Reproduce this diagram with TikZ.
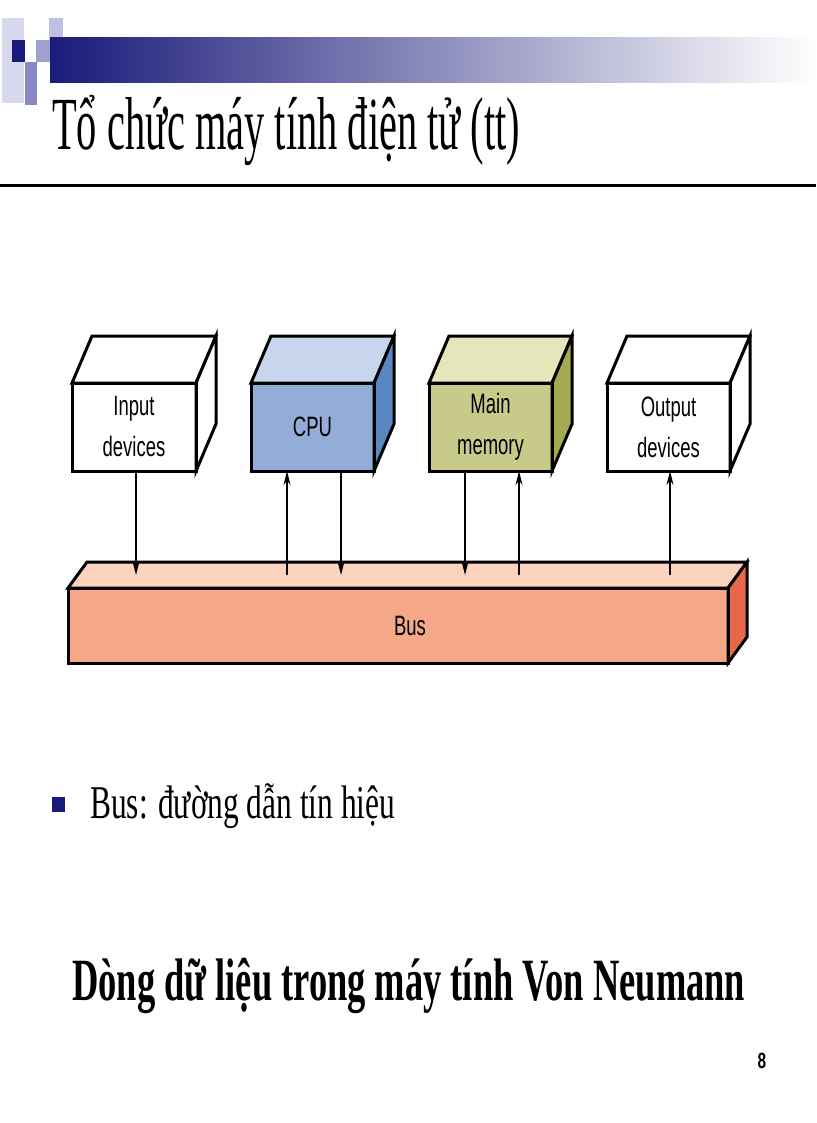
\documentclass[tikz,border=0pt]{standalone}
\usepackage{fontspec}
\setmainfont{Liberation Serif}
\newfontfamily\lsans{Liberation Sans}
\usetikzlibrary{calc,arrows.meta}
\definecolor{navy}{HTML}{1A1A7A}
\definecolor{cpuF}{HTML}{93ADD8}\definecolor{cpuT}{HTML}{C7D6EC}\definecolor{cpuS}{HTML}{5A87C0}
\definecolor{memF}{HTML}{C8CA8A}\definecolor{memT}{HTML}{E6E6BC}\definecolor{memS}{HTML}{A4AA4E}
\definecolor{busF}{HTML}{F5A888}\definecolor{busT}{HTML}{FBD2BE}\definecolor{busS}{HTML}{E8694A}
\newcommand\mkcube[9]{%
 \node[minimum width=#3pt,minimum height=#4pt,inner sep=0,outer sep=0,fill=#7] (#1) at (#2) {};
 \draw[line width=3pt,line join=miter,fill=#8] (#1.north west) -- ++(#5,#6) -- ++(#3,0) -- (#1.north east) -- cycle;
 \draw[line width=3pt,line join=miter,fill=#9] (#1.north east) -- ++(#5,#6) -- ++(0,#4) -- (#1.south east) -- cycle;
 \draw[line width=3pt,line join=miter] (#1.north west) rectangle (#1.south east);}
\tikzset{lbl/.style={font=\lsans\fontsize{28}{41}\selectfont,align=center,inner sep=0},
 arr/.style={line width=1.3pt,-{Stealth[length=14pt,width=7pt]}}}
\newcommand\sx[1]{\scalebox{0.66}[1]{#1}}
\begin{document}
\begin{tikzpicture}[x=1pt,y=-1pt]
\useasboundingbox (0,0) rectangle (816,1123);
% banner
\fill[color={rgb,255:red,216;green,216;blue,238}] (2,18) rectangle (24,103);
\fill[color={rgb,255:red,192;green,192;blue,224}] (49,18) rectangle (63,62);
\fill[color={rgb,255:red,160;green,160;blue,208}] (36,40) rectangle (63,62);
\fill[color={rgb,255:red,136;green,136;blue,196}] (25,62) rectangle (37,105);
\shade[left color=navy,right color=white] (50,38) rectangle (816,83);
\fill[navy] (12,40) rectangle (25,62);
\node[anchor=base west,inner sep=0,font=\fontsize{75}{80}\selectfont] (title) at (52,150) {\resizebox{468pt}{\height}{Tổ chức máy tính điện tử (tt)}};
\draw[line width=3pt] (0,186) -- (816,186);
% cubes
\mkcube{inp}{134,427}{124}{88}{20}{-47}{white}{white}{white}
\mkcube{cpu}{312.5,427}{123}{88}{20}{-47}{cpuF}{cpuT}{cpuS}
\mkcube{mem}{490.5,427}{123}{88}{20}{-47}{memF}{memT}{memS}
\mkcube{out}{668.5,427}{123}{88}{20}{-47}{white}{white}{white}
\mkcube{bus}{398,625.5}{660}{75}{19}{-26}{busF}{busT}{busS}
\node[lbl] (tinp) at (134,427) {\sx{Input}\\\sx{devices}};
\node[lbl] (tcpu) at (312.5,427) {\sx{CPU}};
\node[lbl] (tmem) at (490.5,427) {\sx{Main}\\\sx{memory}};
\node[lbl] (tout) at (668.5,427) {\sx{Output}\\\sx{devices}};
\node[lbl] (tbus) at (410,626) {\sx{Bus}};
\coordinate (bt) at (0,575);
\draw[arr] (inp.south -| 136,0) -- (bt -| 136,0);
\draw[arr] (bt -| 287,0) -- (cpu.south -| 287,0);
\draw[arr] (cpu.south -| 341,0) -- (bt -| 341,0);
\draw[arr] (mem.south -| 465,0) -- (bt -| 465,0);
\draw[arr] (bt -| 519,0) -- (mem.south -| 519,0);
\draw[arr] (bt -| 670,0) -- (out.south -| 670,0);
% bullet
\fill[navy] (52,797) rectangle (65,812);
\node[anchor=base west,inner sep=0,font=\fontsize{47}{50}\selectfont] (bl) at (90,818) {\resizebox{305pt}{\height}{Bus: đường dẫn tín hiệu}};
\node[anchor=base west,inner sep=0,font=\bfseries\fontsize{60}{64}\selectfont] (bold) at (72,1000) {\resizebox{673pt}{\height}{Dòng dữ liệu trong máy tính Von Neumann}};
\node[anchor=base,inner sep=0,font=\lsans\bfseries\fontsize{22}{24}\selectfont] (pg) at (762,1068) {\scalebox{0.7}[1]{8}};
\end{tikzpicture}
\end{document}
